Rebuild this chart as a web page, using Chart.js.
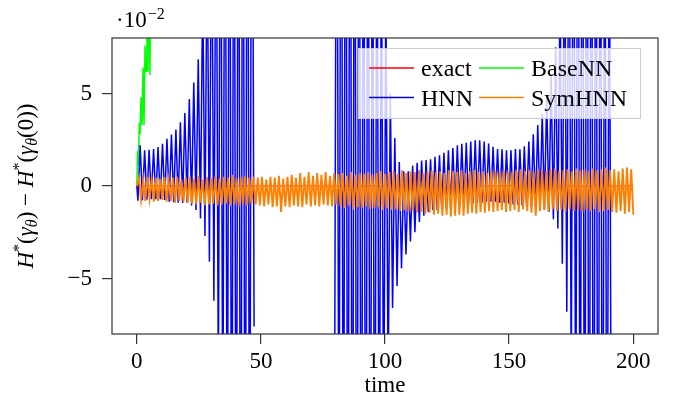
<!DOCTYPE html>
<html>
<head>
<meta charset="utf-8">
<script src="https://cdn.jsdelivr.net/npm/chart.js@4.4.0/dist/chart.umd.min.js"></script>
<style>
  html, body { margin: 0; padding: 0; background: #fff; }
  #wrap { width: 673px; height: 398px; }
</style>
</head>
<body>
<div id="wrap"><canvas id="chart" width="673" height="398"></canvas></div>
<script>
// values in units of 1e-2
const xTicks = [0, 50, 100, 150, 200];
const yTicks = [-5, 0, 5];

// exact solution
const exactT = [0, 200];
const exactV = [0, 0];

// BaseNN (leaves the window after a few time units)
const baseT = [0, 0.3, 0.6, 1.0, 1.3, 1.7, 2.1, 2.5, 2.9, 3.3, 3.7, 4.1, 4.5, 4.9, 5.3, 5.7];
const baseV = [0, 1.9, 1.1, 3.4, 2.8, 4.8, 3.3, 6.4, 3.3, 7.6, 6.2, 9.5, 6.2, 11, 6.0, 14];

// HNN: one peak and one trough per oscillation (period 1.8), null = not drawn
const hnnPeriod = 1.8;
const hnnHi = [
  2.2, 1.93, 1.96, 2.0, 2.1, 2.28, 2.55, 2.78, 3.05, 3.45, 3.95, 4.7, 5.6, 6.85,
  11, 14, 17, 19, 22, 24, 26, 27, 29, 30, 31, 30,
  null, null, null, null, null, null, null, null, null, null, null, null, null, null, null, null, null, null,
  28, 30, 31, 32, 30, 29, 27, 25, 22, 19, 15, 11,
  5.0, 2.6, 1.3, 0.8, 0.8, 1.1, 1.25, 1.38, 1.4, 1.45, 1.58, 1.66, 1.8, 1.93, 2.05, 2.2, 2.28, 2.34, 2.41,
  2.47, 2.47, 2.41, 2.3, 2.12, 2.0, 1.98, 1.93, 1.93, 2.0, 1.98, 2.15, 2.4, 2.8, 3.3, 3.9, 4.8, 6.0, 7.5,
  11, 15, 19, 23, 26, 28, 29, 30, 28, 26, 22, 18,
  null, null, null, null, null
];
const hnnLo = [
  -0.8, -0.77, -0.74, -0.72, -0.72, -0.72, -0.75, -0.85, -0.88, -0.9, -0.92, -0.9, -1.05, -1.3,
  -1.75, -2.7, -4.1, -6.2, -11, -15, -19, -23, -26, -28, -27, -24, -7.6,
  null, null, null, null, null, null, null, null, null, null, null, null, null, null, null, null, null,
  -14, -20, -25, -28, -30, -31, -30, -28, -26, -23, -19, -15, -11,
  -6.6, -5.4, -4.45, -3.7, -3.0, -2.5, -1.95, -1.6, -1.4, -1.3, -1.3, -1.25, -1.2, -1.2, -1.15, -1.1, -1.05, -1.0, -0.95,
  -0.9, -0.9, -0.85, -0.85, -0.85, -0.9, -0.9, -0.95, -1.0, -1.0, -1.05, -1.1, -1.1, -1.15, -1.2, -1.25, -1.4, -1.8,
  -2.3, -4.2, -6.8, -11, -16, -21, -25, -28, -30, -29, -27, -24, -20,
  null, null, null, null
];

// SymHNN: peak and trough per oscillation (period 1.71)
const symPeriod = 1.71;
const symHi = [
  0.45, 0.3, 0.5, 0.35, 0.45, 0.4, 0.5, 0.3, 0.45, 0.5, 0.35, 0.45,
  0.5, 0.4, 0.55, 0.35, 0.5, 0.45, 0.55, 0.4, 0.5, 0.45, 0.6, 0.4, 0.5, 0.55, 0.45, 0.5,
  0.45, 0.5, 0.35, 0.5, 0.45, 0.55, 0.4, 0.5, 0.6, 0.45, 0.7, 0.5, 0.75, 0.55, 0.7, 0.6, 0.75, 0.55, 0.7,
  0.65, 0.7, 0.55, 0.75, 0.6, 0.7, 0.65, 0.75, 0.6, 0.7, 0.8, 0.65,
  0.75, 0.8, 0.65, 0.85, 0.7, 0.8, 0.75, 0.85, 0.7, 0.8, 0.85, 0.75, 0.8, 0.7, 0.85, 0.8, 0.75, 0.85, 0.7,
  0.8, 0.85, 0.75, 0.8, 0.7, 0.85, 0.8, 0.75, 0.85, 0.8,
  0.75, 0.85, 0.9, 0.8, 0.85, 0.75, 0.9, 0.85, 0.8, 0.9, 0.95, 0.8, 0.85, 0.9, 0.8, 0.95, 0.85, 0.9, 0.8,
  0.95, 0.85, 0.9, 1.0, 0.85, 0.9, 0.8, 0.95, 1.0, 0.9
];
const symLo = [
  -0.75, -0.8, -0.7, -0.85, -0.8, -0.75, -0.85, -0.8, -0.9, -0.8, -0.85, -0.9,
  -0.95, -1.0, -0.9, -1.05, -1.0, -0.95, -1.05, -1.0, -0.95, -1.05, -1.0, -1.1, -1.0, -1.05, -0.95, -1.0,
  -1.05, -1.1, -1.0, -1.15, -1.1, -1.4, -1.1, -1.15, -1.05, -1.1, -1.15, -1.0, -1.1, -1.05, -1.1, -1.0, -1.05, -1.1, -1.0,
  -1.1, -1.2, -1.05, -1.25, -1.15, -1.2, -1.1, -1.25, -1.2, -1.15, -1.3, -1.2,
  -1.3, -1.25, -1.35, -1.3, -1.4, -1.35, -1.45, -1.4, -1.5, -1.45, -1.55, -1.5, -1.6, -1.55, -1.65, -1.6, -1.55, -1.6, -1.5,
  -1.45, -1.5, -1.4, -1.45, -1.35, -1.4, -1.35, -1.3, -1.4, -1.35,
  -1.3, -1.4, -1.25, -1.35, -1.45, -1.6, -1.35, -1.3, -1.4, -1.25, -1.35, -1.3, -1.4, -1.25, -1.35, -1.3, -1.4,
  -1.3, -1.35, -1.25, -1.4, -1.35, -1.3, -1.4, -1.45, -1.35, -1.5, -1.4, -1.55
];

const SERIF = '"Liberation Serif", "DejaVu Serif", serif';

function pairs(ts, vs) {
  return ts.map((t, i) => ({ x: t, y: vs[i] }));
}

// trough first, then peak, within each period
function zigzag(hi, lo, period, troughFirst) {
  const pts = [{ x: 0, y: 0 }];
  for (let i = 0; i < hi.length; i++) {
    if (troughFirst) {
      pts.push({ x: period * i + period / 4, y: lo[i] });
      pts.push({ x: period * i + period * 3 / 4, y: hi[i] });
    } else {
      pts.push({ x: period * i + period / 2, y: hi[i] });
      pts.push({ x: period * (i + 1), y: lo[i] });
    }
  }
  return pts;
}

const legendItems = [
  { label: 'exact', color: '#ff0000', col: 0, row: 0 },
  { label: 'BaseNN', color: '#00ff00', col: 1, row: 0 },
  { label: 'HNN', color: '#0000ff', col: 0, row: 1 },
  { label: 'SymHNN', color: '#ff8000', col: 1, row: 1 }
];

const decorPlugin = {
  id: 'decor',
  afterDraw(chart) {
    const ctx = chart.ctx;
    const a = chart.chartArea;
    ctx.save();

    // axis box
    ctx.strokeStyle = '#333333';
    ctx.lineWidth = 1.2;
    ctx.strokeRect(a.left, a.top, a.right - a.left, a.bottom - a.top);

    // legend
    ctx.fillStyle = 'rgba(255,255,255,0.8)';
    ctx.fillRect(358, 48, 283, 71);
    ctx.strokeStyle = '#cccccc';
    ctx.lineWidth = 1;
    ctx.strokeRect(358.5, 48.5, 282, 70);
    ctx.font = '24px ' + SERIF;
    ctx.textBaseline = 'alphabetic';
    legendItems.forEach(it => {
      const lx = it.col === 0 ? 369 : 479;
      const ly = it.row === 0 ? 68 : 97.5;
      ctx.strokeStyle = it.color;
      ctx.lineWidth = 1.4;
      ctx.beginPath();
      ctx.moveTo(lx, ly);
      ctx.lineTo(lx + 45, ly);
      ctx.stroke();
      ctx.fillStyle = '#000';
      ctx.fillText(it.label, lx + 52, ly + 8);
    });

    // x axis title
    ctx.fillStyle = '#000';
    ctx.font = '23px ' + SERIF;
    ctx.textAlign = 'center';
    ctx.fillText('time', (a.left + a.right) / 2, 392);

    // exponent label
    ctx.textAlign = 'left';
    ctx.font = '23px ' + SERIF;
    ctx.fillText('\u00b710', 116, 27);
    const w10 = ctx.measureText('\u00b710').width;
    ctx.font = '16px ' + SERIF;
    ctx.fillText('\u22122', 116 + w10 + 1, 19);

    // y axis title
    const segs = [
      { t: 'H', it: true }, { t: '*', sup: true }, { t: '(' }, { t: '\u03b3', it: true },
      { t: '\u03b8', it: true, sub: true }, { t: ')' }, { t: ' \u2212 ' },
      { t: 'H', it: true }, { t: '*', sup: true }, { t: '(' }, { t: '\u03b3', it: true },
      { t: '\u03b8', it: true, sub: true }, { t: '(0))' }
    ];
    const fontFor = s => (s.it ? 'italic ' : '') + ((s.sup || s.sub) ? '16px ' : '23px ') + SERIF;
    let total = 0;
    segs.forEach(s => { ctx.font = fontFor(s); s.w = ctx.measureText(s.t).width; total += s.w; });
    ctx.translate(25, (a.top + a.bottom) / 2);
    ctx.rotate(-Math.PI / 2);
    let x = -total / 2;
    segs.forEach(s => {
      ctx.font = fontFor(s);
      const y = s.sup ? -1 : (s.sub ? 12 : 8);
      ctx.fillText(s.t, x, y);
      x += s.w;
    });
    ctx.restore();
  }
};

const tickFont = { family: SERIF, size: 23 };

new Chart(document.getElementById('chart').getContext('2d'), {
  type: 'line',
  data: {
    datasets: [
      {
        label: 'SymHNN',
        data: zigzag(symHi, symLo, symPeriod, false),
        borderColor: '#ff8000',
        borderWidth: 1.9,
        order: 0
      },
      {
        label: 'HNN',
        data: zigzag(hnnHi, hnnLo, hnnPeriod, true),
        borderColor: '#0000ff',
        borderWidth: 1.5,
        order: 1
      },
      {
        label: 'BaseNN',
        data: pairs(baseT, baseV),
        borderColor: '#00ff00',
        borderWidth: 1.5,
        order: 2
      },
      {
        label: 'exact',
        data: pairs(exactT, exactV),
        borderColor: '#ff0000',
        borderWidth: 1.2,
        order: 3
      }
    ]
  },
  options: {
    responsive: false,
    animation: false,
    devicePixelRatio: 1,
    spanGaps: false,
    layout: { padding: { left: 0, right: 15, top: 38, bottom: 0 } },
    elements: {
      point: { radius: 0 },
      line: { tension: 0, fill: false }
    },
    plugins: {
      legend: { display: false },
      tooltip: { enabled: false }
    },
    scales: {
      x: {
        type: 'linear',
        min: -10,
        max: 210,
        afterBuildTicks: s => { s.ticks = xTicks.map(v => ({ value: v })); },
        afterFit: s => { s.height = 64; },
        ticks: { font: tickFont, color: '#000', padding: 4, maxRotation: 0, autoSkip: false },
        grid: { drawOnChartArea: false, drawTicks: true, tickLength: 10, color: '#333333', lineWidth: 1.2 },
        border: { display: false }
      },
      y: {
        type: 'linear',
        min: -8,
        max: 8,
        afterBuildTicks: s => { s.ticks = yTicks.map(v => ({ value: v })); },
        afterFit: s => { s.width = 112; },
        ticks: {
          font: tickFont,
          color: '#000',
          padding: 10,
          callback: v => String(v).replace('-', '\u2212')
        },
        grid: { drawOnChartArea: false, drawTicks: true, tickLength: 10, color: '#333333', lineWidth: 1.2 },
        border: { display: false }
      }
    }
  },
  plugins: [decorPlugin]
});
</script>
</body>
</html>
